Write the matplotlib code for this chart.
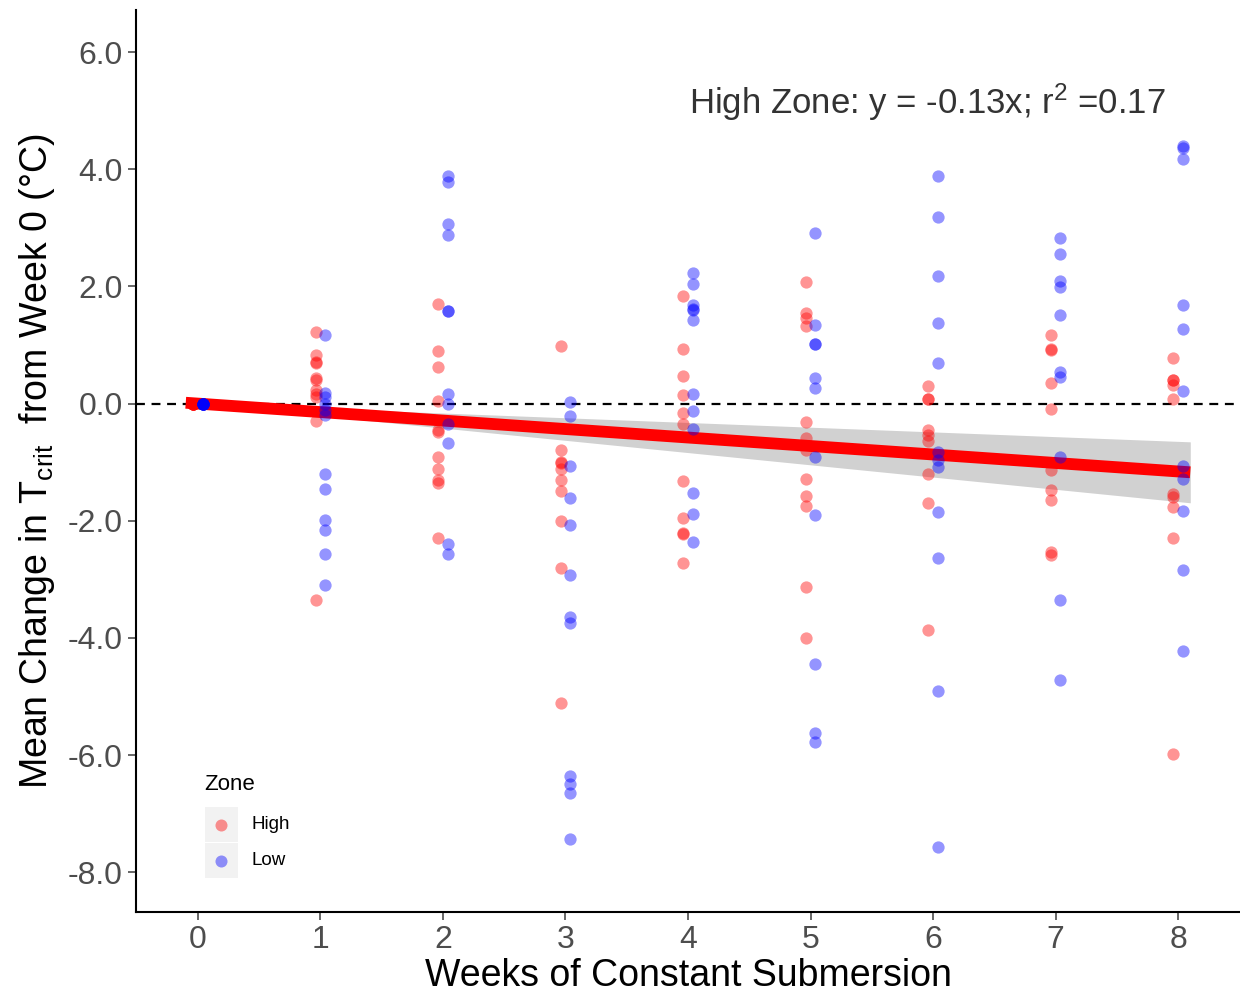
import numpy as np
import matplotlib
matplotlib.use('Agg')
import matplotlib.pyplot as plt
from matplotlib.patches import Rectangle

plt.rcParams['font.family'] = ['Liberation Sans', 'DejaVu Sans']
plt.rcParams['mathtext.fontset'] = 'custom'
plt.rcParams['mathtext.rm'] = 'Liberation Sans'
plt.rcParams['mathtext.it'] = 'Liberation Sans:italic'

# change in Tcrit per week
weeks = [0, 1, 2, 3, 4, 5, 6, 7, 8]
high = {
    0: [0.0] * 8,
    1: [1.22, 0.83, 0.71, 0.69, 0.43, 0.40, 0.24, 0.17, 0.11, -0.30, -3.35],
    2: [1.70, 0.90, 0.63, 0.05, -0.45, -0.48, -0.91, -1.11, -1.31, -1.36, -2.30],
    3: [0.99, -0.80, -1.00, -1.02, -1.12, -1.30, -1.50, -2.01, -2.80, -5.11],
    4: [1.84, 0.93, 0.47, 0.15, -0.16, -0.34, -1.32, -1.96, -2.21, -2.23, -2.72],
    5: [2.08, 1.54, 1.46, 1.33, -0.32, -0.59, -0.79, -1.29, -1.58, -1.75, -3.13, -4.01],
    6: [0.30, 0.07, 0.07, -0.45, -0.54, -0.64, -1.21, -1.70, -3.86],
    7: [1.17, 0.94, 0.91, 0.36, -0.10, -1.13, -1.47, -1.64, -2.53, -2.58],
    8: [0.78, 0.41, 0.40, 0.31, 0.07, -1.55, -1.59, -1.76, -2.30, -5.98],
}
low = {
    0: [0.0] * 8,
    1: [1.17, 0.18, 0.11, 0.0, -0.11, -0.20, -1.21, -1.45, -1.98, -2.15, -2.57, -3.10],
    2: [3.88, 3.79, 3.07, 2.88, 1.58, 1.58, 0.17, 0.0, -0.34, -0.67, -2.39, -2.56],
    3: [0.03, -0.22, -1.07, -1.61, -2.07, -2.93, -3.65, -3.74, -6.35, -6.50, -6.64, -7.44],
    4: [2.23, 2.05, 1.68, 1.61, 1.60, 1.42, 0.16, -0.13, -0.43, -1.52, -1.89, -2.37],
    5: [2.91, 1.35, 1.02, 1.01, 0.43, 0.27, -0.91, -1.90, -4.45, -5.62, -5.77],
    6: [3.88, 3.18, 2.18, 1.38, 0.69, -0.82, -0.97, -1.08, -1.85, -2.64, -4.91, -7.57],
    7: [2.83, 2.56, 2.09, 1.99, 1.52, 0.54, 0.46, -0.91, -3.36, -4.72],
    8: [4.39, 4.37, 4.17, 1.69, 1.28, 0.22, -1.07, -1.28, -1.83, -2.84, -4.23],
}

dodge = 0.04


def flatten(d, shift):
    xs, ys = [], []
    for w in weeks:
        xs += [w + shift] * len(d[w])
        ys += d[w]
    return np.array(xs), np.array(ys)


hx, hy = flatten(high, -dodge)
lx, ly = flatten(low, dodge)

# regression through the origin for the High zone, with 95% band
wx = np.concatenate([[w] * len(high[w]) for w in weeks]).astype(float)
slope = np.sum(wx * hy) / np.sum(wx ** 2)
resid = hy - slope * wx
sigma = np.sqrt(np.sum(resid ** 2) / (len(hy) - 1))
se_slope = sigma / np.sqrt(np.sum(wx ** 2))
fit_x = np.linspace(-0.1, 8.1, 60)
fit_y = slope * fit_x
band = 1.98 * se_slope * np.abs(fit_x)

fig = plt.figure(figsize=(12.4, 9.92), dpi=100)
ax = fig.add_axes([136 / 1240, 80 / 992, 1104 / 1240, 902 / 992])

ax.axhline(0, color='black', ls=(0, (4, 3)), lw=1.6, zorder=1)
ax.fill_between(fit_x, fit_y - band, fit_y + band, color='#999999', alpha=0.45, lw=0, zorder=2)
ax.plot(fit_x, fit_y, color='red', lw=8.5, solid_capstyle='butt', zorder=3)
ax.scatter(hx, hy, s=78, color='red', alpha=0.42, lw=0, zorder=4)
ax.scatter(lx, ly, s=78, color='blue', alpha=0.42, lw=0, zorder=4)

ax.set_xlim(-0.506, 8.506)
ax.set_ylim(-8.68, 6.72)
ax.set_xticks(weeks)
ax.set_yticks(np.arange(-8, 7, 2))
ax.set_yticklabels([f'{v:.1f}' for v in np.arange(-8, 7, 2)])
ax.tick_params(labelsize=23, colors='#4D4D4D', length=6, width=1.2, labelcolor='#4D4D4D')
for side in ['top', 'right']:
    ax.spines[side].set_visible(False)
for side in ['left', 'bottom']:
    ax.spines[side].set_linewidth(1.5)
    ax.spines[side].set_color('black')

ax.set_xlabel('Weeks of Constant Submersion', fontsize=27, labelpad=2)
ax.set_ylabel('Mean Change in T$_{\\mathrm{crit}}$  from Week 0 (°C)', fontsize=27, labelpad=8)

ax.text(5.95, 5.15, 'High Zone: y = -0.13x; r$^{2}$ =0.17', fontsize=25,
        color='#333333', ha='center', va='center')

# legend drawn by hand, ggplot style
ax.text(0.0616, 0.1415, 'Zone', transform=ax.transAxes, fontsize=16, ha='left', va='center')
for i, (lab, col) in enumerate([('High', 'red'), ('Low', 'blue')]):
    yc = 0.0965 - i * 0.0399
    ax.add_patch(Rectangle((0.0625, yc - 0.0194), 0.0299, 0.0388, transform=ax.transAxes,
                           facecolor='#F2F2F2', edgecolor='none', clip_on=False))
    ax.scatter([0.077], [yc], s=75, color=col, alpha=0.42, lw=0, transform=ax.transAxes, clip_on=False)
    ax.text(0.1042, yc, lab, transform=ax.transAxes, fontsize=13.5, ha='left', va='center')

fig.savefig('out.png', dpi=100)
